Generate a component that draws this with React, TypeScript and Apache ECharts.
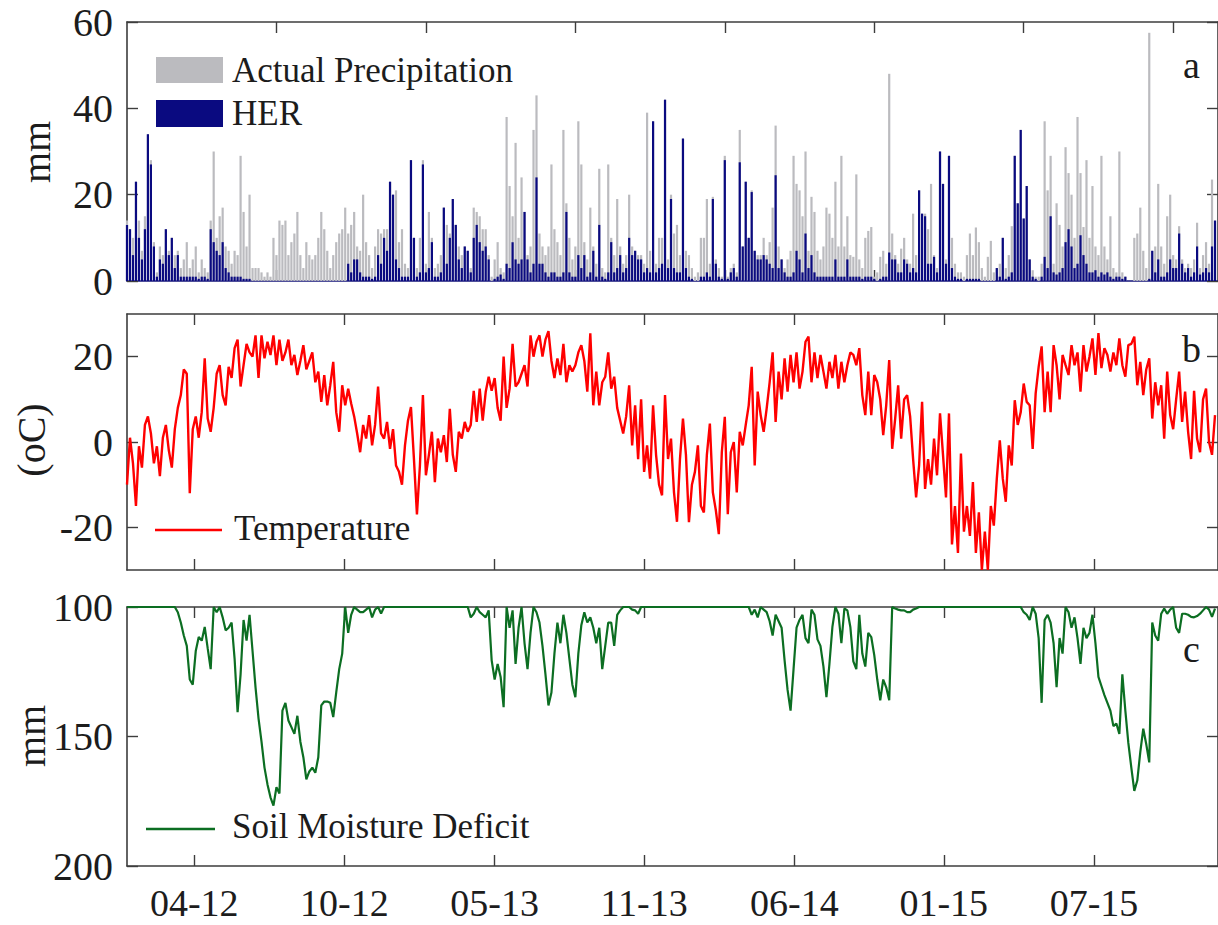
import React, { useEffect, useRef } from 'react';
import * as echarts from 'echarts';

// Daily record sampled every 4 days, starting early January 2012.
const STEP_DAYS = 4;
const LAST_DAY = 1460;

// Date ticks of the temperature / soil-moisture panels (day index -> mm-yy label)
const dateTickDays = [90, 291, 492, 692, 893, 1093, 1294];
const dateTickLabels = ['04-12', '10-12', '05-13', '11-13', '06-14', '01-15', '07-15'];
// Day-count ticks of the precipitation panel
const dayCountTicks = [200, 400, 600, 800, 1000, 1200, 1400];

const precipTicks = [0, 20, 40, 60];
const temperatureTicks = [-20, 0, 20];
const deficitTicks = [100, 150, 200];

// Actual precipitation (mm)
const precipitation = [
  14, 12, 10, 23, 14, 7, 15, 34, 28, 9,
  2, 8, 6, 12, 7, 10, 6, 7, 3, 5,
  9, 3, 5, 8, 2, 5, 3, 2, 14, 30,
  10, 15, 17, 8, 7, 4, 7, 6, 29, 16,
  8, 20, 3, 3, 3, 2, 1, 2, 1, 10,
  6, 14, 13, 14, 6, 9, 11, 16, 6, 3,
  9, 6, 5, 6, 10, 16, 12, 7, 3, 6,
  9, 11, 12, 17, 11, 13, 16, 8, 7, 20,
  9, 6, 3, 8, 12, 11, 12, 12, 23, 20,
  21, 9,
  12, 4, 3, 28, 10, 3, 10, 28, 4, 16,
  10, 3, 4, 6, 17, 13, 11, 19, 13, 8,
  6, 8, 7, 3, 17, 16, 15, 12, 12, 6,
  1, 5, 9, 3, 2, 38, 22, 15, 32, 10,
  24, 16, 6, 8, 35, 43, 11, 8, 6, 8,
  27, 12, 9, 6, 35, 18, 10, 5, 8, 37,
  27, 9, 5, 17, 8, 4, 26, 3, 2, 27,
  10, 6, 19, 8, 4, 6, 20, 8, 7, 6,
  6, 4, 39, 7, 37, 4, 10, 10, 42, 5,
  20, 11,
  13, 6, 33, 7, 6, 3, 1, 2, 10, 10,
  19, 4, 19.5, 5, 3, 1, 29, 1, 3, 4,
  2, 35, 8, 23, 10, 21, 7, 6, 6, 10,
  6, 9, 17, 36, 8, 5, 3, 5, 7, 29,
  22.5, 21, 15, 30, 7, 19.5, 16, 7, 5, 8,
  17, 15.6, 10, 23, 8, 29, 8, 15, 6, 5.6,
  24.7, 5, 3, 10, 11.6, 12.5, 1, 2, 5.6, 7,
  4, 48, 11, 6, 4, 7.5, 10, 5, 4, 15.6,
  6, 21, 15.6, 15.6, 12, 22.5, 6, 3, 30, 22.5,
  5, 29,
  10, 4, 2, 2, 1, 6, 11, 6, 12.4, 9,
  3, 1, 5.6, 9.3, 2, 3, 4, 10, 3, 6,
  12.7, 29, 18, 35, 14.5, 22, 5, 2.5, 1, 1,
  4, 37, 21, 29, 4, 18, 13, 8, 31, 25,
  20, 10, 38, 25, 12.5, 28, 10, 22, 8, 6,
  29, 8, 5, 15, 3, 2, 30, 2, 1, 0,
  0, 10, 11, 17, 7, 3, 57.5, 7, 8, 22.5,
  8, 4, 15, 20, 6, 5, 12.7, 5, 3, 4,
  3, 5, 13.5, 3, 6, 9, 4, 23.5, 14,
];

// Hydrologically effective rainfall (mm)
const her = [
  13, 12, 6, 23, 10, 5, 12, 34, 27, 8,
  1, 5, 4, 12, 6, 10, 3, 6, 1, 1,
  1, 1, 1, 1, 0.5, 1, 1, 0.5, 12, 9,
  7, 6, 9, 3, 2, 1, 1, 1, 1, 0.5,
  0.5, 0.5, 0, 0, 0, 0, 0, 0, 0, 0,
  0, 0, 0, 0, 0, 0, 0, 0, 0, 0,
  0, 0, 0, 0, 0, 0, 0, 0, 0, 0,
  0, 0, 0, 0, 4, 2, 5, 5, 2, 1,
  1, 1, 0.5, 1, 6, 4, 10, 7, 23, 20,
  5, 3,
  1, 1, 1, 28, 10, 1, 2, 27, 2, 3,
  9, 1, 1, 2, 17, 4, 10, 19, 13, 5,
  3, 8, 7, 2, 10, 13, 9, 7, 8, 5,
  0, 0.5, 1, 1.5, 0.5, 4, 3, 9, 5, 4,
  5, 16, 5, 2, 4, 24, 4, 4, 2, 1,
  2, 2, 1, 1, 2, 16, 2, 1, 1, 6,
  3, 6, 1, 2, 7, 1, 13, 1, 0.5, 2,
  9, 2, 3, 6, 2, 3, 10, 6, 7, 5,
  5, 2, 3, 2, 37, 2, 3, 4, 42, 3,
  19, 3,
  2, 2, 33, 3, 1, 0.5, 0, 0, 1, 1,
  2, 1, 19, 4, 1, 0.5, 28, 0.5, 2, 3,
  1, 27.5, 8, 23, 10, 20.6, 7, 5, 5, 6,
  5, 4, 3, 24.5, 3, 5, 2, 1, 1, 2,
  7, 5, 2, 11, 3, 6, 2, 1, 1, 1,
  1, 1, 1, 5, 1, 1, 1, 5, 1, 1,
  1, 1, 0.5, 1, 1, 1, 0.5, 0, 0.5, 1,
  1, 6.6, 5, 5, 2, 2, 5, 4, 2, 3,
  2, 21, 15.6, 15, 4, 4, 5.6, 2, 30, 22.5,
  4, 29,
  3, 1, 0.5, 0.5, 0, 0.5, 0.5, 0.5, 0.5, 0.5,
  0, 0, 0, 0, 0, 3, 1, 10, 0.5, 1,
  2, 29, 18, 35, 14.5, 22, 5, 1, 0.5, 0,
  1, 5.6, 3, 15, 2, 1.5, 2, 3, 9, 12,
  8, 3, 4, 10.6, 6, 4, 2, 2, 2.5, 1,
  2, 1.5, 2, 1, 0.5, 1, 1, 0.5, 1, 0,
  0, 0, 0, 0, 0, 0, 0.5, 7, 2, 5,
  1, 1, 2, 5, 3, 3, 11, 4, 2, 3,
  1, 2, 8, 1.5, 2, 3, 2, 8, 14,
];

// Air temperature (°C)
const temperature = [
  -10, 1, -5, -15, -1, -6, 4, 6, 2, -5,
  -1, -8, 1, 4, -2, -6, 3, 8, 11, 17,
  16, -12, 3, 6, 1, 7, 19.6, 5.5, 2.4, 8,
  16, 18, 11, 8.6, 17.6, 15, 22, 24, 13, 18,
  23, 21, 20, 25, 15, 25, 19.6, 23.5, 20.4, 25,
  18, 24, 19, 21, 24, 18, 20.4, 15.7, 19, 22.7,
  17, 19, 21, 14, 16.5, 9.4, 15.7, 8.6, 13.3, 18.8,
  7, 2.4, 13.3, 8.6, 12.5, 9, 6, 2, -2.4, 4,
  0.8, 6.3, -0.8, 4, 13, 2, 0.8, 4.7, -1.6, 3,
  -5.5, -7, -10, -0.8, 5, 8.2, -4, -17, -5.5, 11,
  -7.8, -3, 2.4, -9.4, 0.8, -2.4, 1.6, -4.7, 7.8, -3,
  -7, 2.4, 0.8, 4.7, 2.4, 4, 12, 4.7, 12.5, 5,
  11.7, 15.3,
  12, 15, 8, 5, 20, 8, 12.5, 23, 13, 14,
  16, 18, 13, 25, 20, 23.5, 25, 20, 24, 26,
  19, 15, 19.6, 15.7, 23, 14, 18, 16.5, 18, 21,
  22.7, 19, 11.8, 25.5, 8.6, 16.5, 8.6, 14, 15.3, 21,
  12.5, 15.3, 8, 5, 2, 6, 13.3, -0.8, 8.6, -4,
  10, -7, -0.8, -8.6, 8.6, -3, -10, -12.5, 11, -4,
  0.8, -11.8, -18.7, -4, 5.5, -3, -18.8, -10, -7, -0.8,
  -15, -16.5, -3, 4.3, -11.8, -16, -21.6, -2.4, 5.9, -16.9,
  -2.4, 0, -11.8, 2.4, -0.8, 4, 8.6, 17.6, -5.5, 11.8,
  6.3, 2.4, 7.8, 14, 21, 4.7, 16.5, 10, 19.6, 11.8,
  20.4, 14, 21, 12.5, 16.5, 23.5, 24.7, 14, 21, 15,
  20.4, 16.5, 12.5, 18.8, 15, 20.4, 12.5, 18.8, 14, 18,
  21, 20.4, 18,
  22, 11, 6.3, 16.5, 6.3, 15.7, 14, 10, 1.6, 8.6,
  19.2, -1.6, 5.5, 13.3, 0.8, 10, 11, 6, -4, -13,
  -5.5, 9.4, -11, -4, -10, 0.8, -7.8, 6.7, -3, -13,
  6.7, -24, -15, -26, -2.7, -21, -15, -22, -9.4, -26,
  -16.5, -30, -21, -30, -15, -19.6, -8.6, 0.4, -8.6, -14,
  -0.8, -5.5, 9.8, 4, 7, 13.7, 9.4, 8.6, -1.6, 11.4,
  17.6, 22.4, 7, 16.5, 7, 22.7, 18, 10, 20.4, 18,
  15.7, 22.7, 18, 21, 11.8, 22.7, 16.5, 20, 24.3, 15.7,
  25.5, 17.3, 22, 20.4, 16.5, 21, 18, 24.3, 18, 15.3,
  22.7, 23, 24.7, 13.3, 18.8, 11, 17, 19.6, 5.5, 14,
  8.6, 13.3, 0.8, 16.5, 6.3, 3, 10, 16.5, 4.7, 11.8,
  2.4, -4, 12, 0.8, -2.4, 10, 12.5, 0, -3, 6.3,
];

// Soil moisture deficit (mm, plotted downward from 100)
const soilMoistureDeficit = [
  100, 100, 100, 100, 100, 100, 100, 100, 100, 100,
  100, 100, 100, 100, 100, 100, 100, 102, 106, 111,
  115, 128, 130, 117, 111.6, 113, 107.7, 116, 124, 100,
  102, 100, 104, 109, 108, 106, 120, 140.6, 126, 105,
  113, 103, 117, 131, 143, 152, 162, 168.5, 173.5, 176.7,
  169.6, 172, 140, 137, 143.8, 146.4, 149, 142, 152, 158,
  166.5, 163.5, 162, 164, 158, 138, 136.5, 136.5, 137, 142.5,
  133, 124, 118, 100, 110, 103, 100, 101, 102, 102,
  101, 100, 104, 101, 100, 102.5, 100, 100, 100, 100,
  100, 100, 100, 100, 100, 100, 100, 100, 100, 100,
  100, 100, 100, 100, 100, 100, 100, 100, 100, 100,
  100, 100, 100, 100, 100, 104, 102.6, 100, 102, 103,
  104, 101.3, 120.6, 128, 122, 127, 138.7, 100, 108, 101.3,
  122, 108, 100, 114, 124, 110, 100, 102, 106, 115,
  126, 138, 133, 118, 106, 114, 103, 110, 120, 130,
  134.8, 118, 107, 102, 106, 104, 108, 114, 108, 124,
  115, 106, 106, 115, 103, 101.3, 100, 100, 100, 101,
  101.3, 102.6, 100, 100, 100, 100, 100, 100, 100, 100,
  100, 100, 100, 100, 100, 100, 100, 100, 100, 100,
  100, 100, 100, 100, 100, 100, 100, 100, 100, 100,
  100, 100, 100, 100, 100, 100, 100, 100, 100, 103,
  101, 104, 100, 101, 102, 105.5, 111, 103, 105.5, 108,
  120.6, 132, 140, 124, 108, 105, 103, 112, 114, 101,
  103, 112.5, 115, 123, 134.8, 122, 107.7, 100, 102.6, 114,
  100.6, 101.3, 107.7, 121, 124, 103, 118, 123, 110, 111.6,
  118.6, 128, 136, 128, 131, 136, 100, 100.6, 101, 101.3,
  101.3, 102, 102, 101, 100.6, 100, 100, 100, 100, 100,
  100, 100, 100, 100, 100, 100, 100, 100, 100, 100,
  100, 100, 100, 100, 100, 100, 100, 100, 100, 100,
  100, 100, 100, 100, 100, 100, 100, 100, 100, 100,
  102, 103, 105, 100, 102.6, 112, 137, 105, 103, 106,
  114, 131, 112, 118, 100, 102, 108, 104, 112, 122,
  108, 112, 110, 103, 114, 127, 130.5, 134, 137, 140,
  146, 145, 149, 126, 140, 152.5, 162, 171, 167, 156,
  147, 153, 160, 106, 111, 113, 102.6, 100.6, 102.6, 101,
  100, 108, 110, 102.6, 102.6, 103, 103.8, 104, 103.5, 102.6,
  101.3, 100, 101, 103.8, 100.6,
];

const FONT = 'Liberation Serif, Times New Roman, serif';
const AXIS_COLOR = '#3d3d3d';
const TEXT_COLOR = '#1c1c1c';
const PRECIP_COLOR = '#bbbbbf';
const HER_COLOR = '#0a0a80';
const TEMP_COLOR = '#ff0000';
const SMD_COLOR = '#0c6e22';

const toPairs = (values: number[]) => values.map((v, i) => [i * STEP_DAYS, v]);

function dayAxis(gridIndex: number, position: 'top' | 'bottom', ticks: number[], withLabels: boolean, lineColor = AXIS_COLOR) {
  return {
    type: 'value',
    gridIndex,
    position,
    min: 0,
    max: LAST_DAY,
    axisLine: { show: true, onZero: false, lineStyle: { color: lineColor, width: 1.6 } },
    axisTick: { show: true, inside: true, length: 11, customValues: ticks, lineStyle: { color: AXIS_COLOR, width: 1.4 } },
    axisLabel: withLabels
      ? {
          show: true,
          customValues: ticks,
          margin: 18,
          fontSize: 38,
          lineHeight: 38,
          fontFamily: FONT,
          color: TEXT_COLOR,
          formatter: (v: number) => {
            const k = dateTickDays.indexOf(v);
            return k >= 0 ? dateTickLabels[k] : '';
          },
        }
      : { show: false },
    splitLine: { show: false },
  };
}

function valueAxis(gridIndex: number, position: 'left' | 'right', min: number, max: number, ticks: number[], inverse: boolean) {
  const withLabels = position === 'left';
  return {
    type: 'value',
    gridIndex,
    position,
    min,
    max,
    inverse,
    axisLine: { show: true, onZero: false, lineStyle: { color: AXIS_COLOR, width: 1.6 } },
    axisTick: { show: true, inside: true, length: 11, customValues: ticks, lineStyle: { color: AXIS_COLOR, width: 1.4 } },
    axisLabel: withLabels
      ? { show: true, customValues: ticks, margin: 14, fontSize: 40, fontFamily: FONT, color: TEXT_COLOR }
      : { show: false },
    splitLine: { show: false },
  };
}

const textStyle = (text: string, fontSize: number, extra: Record<string, unknown> = {}) => ({
  text,
  fontSize,
  fontFamily: FONT,
  fill: TEXT_COLOR,
  verticalAlign: 'middle',
  ...extra,
});

const option = {
  animation: false,
  backgroundColor: '#ffffff',
  textStyle: { fontFamily: FONT },
  grid: [
    { left: 127, top: 22, width: 1093, height: 259 },
    { left: 127, top: 314, width: 1093, height: 256 },
    { left: 127, top: 607, width: 1093, height: 259 },
  ],
  xAxis: [
    dayAxis(0, 'bottom', dayCountTicks, false, '#14147a'),
    dayAxis(0, 'top', dayCountTicks, false),
    dayAxis(1, 'bottom', dateTickDays, false),
    dayAxis(1, 'top', dateTickDays, false),
    dayAxis(2, 'bottom', dateTickDays, true),
    dayAxis(2, 'top', dateTickDays, false),
  ],
  yAxis: [
    valueAxis(0, 'left', 0, 60, precipTicks, false),
    valueAxis(0, 'right', 0, 60, precipTicks, false),
    valueAxis(1, 'left', -30, 30, temperatureTicks, false),
    valueAxis(1, 'right', -30, 30, temperatureTicks, false),
    valueAxis(2, 'left', 100, 200, deficitTicks, true),
    valueAxis(2, 'right', 100, 200, deficitTicks, true),
  ],
  series: [
    {
      name: 'Actual Precipitation',
      type: 'bar',
      xAxisIndex: 0,
      yAxisIndex: 0,
      data: toPairs(precipitation),
      barWidth: 2.2,
      barGap: '-100%',
      itemStyle: { color: PRECIP_COLOR },
    },
    {
      name: 'HER',
      type: 'bar',
      xAxisIndex: 0,
      yAxisIndex: 0,
      data: toPairs(her),
      barWidth: 2.2,
      barGap: '-100%',
      itemStyle: { color: HER_COLOR },
    },
    {
      name: 'Temperature',
      type: 'line',
      xAxisIndex: 2,
      yAxisIndex: 2,
      data: toPairs(temperature),
      symbol: 'none',
      showSymbol: false,
      lineStyle: { color: TEMP_COLOR, width: 2.4 },
    },
    {
      name: 'Soil Moisture Deficit',
      type: 'line',
      xAxisIndex: 4,
      yAxisIndex: 4,
      data: toPairs(soilMoistureDeficit),
      symbol: 'none',
      showSymbol: false,
      lineStyle: { color: SMD_COLOR, width: 2.2 },
    },
  ],
  graphic: [
    { type: 'rect', shape: { x: 156, y: 57, width: 67, height: 26 }, style: { fill: PRECIP_COLOR } },
    { type: 'text', x: 232, y: 70, style: textStyle('Actual Precipitation', 35) },
    { type: 'rect', shape: { x: 156, y: 100, width: 67, height: 27 }, style: { fill: HER_COLOR } },
    { type: 'text', x: 232, y: 113, style: textStyle('HER', 35) },
    { type: 'line', shape: { x1: 155, y1: 530, x2: 222, y2: 530 }, style: { stroke: TEMP_COLOR, lineWidth: 2.5 } },
    { type: 'text', x: 234, y: 528, style: textStyle('Temperature', 35) },
    { type: 'line', shape: { x1: 146, y1: 829, x2: 215, y2: 829 }, style: { stroke: SMD_COLOR, lineWidth: 2.5 } },
    { type: 'text', x: 232, y: 826, style: textStyle('Soil Moisture Deficit', 35) },
    { type: 'text', x: 1183, y: 65, style: textStyle('a', 38) },
    { type: 'text', x: 1182, y: 349, style: textStyle('b', 38) },
    { type: 'text', x: 1183, y: 649, style: textStyle('c', 38) },
    { type: 'text', x: 36, y: 152, rotation: Math.PI / 2, style: textStyle('mm', 40, { align: 'center' }) },
    { type: 'text', x: 31, y: 440, rotation: Math.PI / 2, style: textStyle('(oC)', 40, { align: 'center' }) },
    { type: 'text', x: 31, y: 736, rotation: Math.PI / 2, style: textStyle('mm', 40, { align: 'center' }) },
  ],
};

export default function App() {
  const ref = useRef<HTMLDivElement>(null);

  useEffect(() => {
    if (!ref.current) return;
    const chart = echarts.init(ref.current, null, { renderer: 'svg' });
    chart.setOption(option as any);
    return () => chart.dispose();
  }, []);

  return (
    <div
      ref={ref}
      style={{ position: 'absolute', left: 0, top: 0, width: 1218, height: 925, background: '#ffffff' }}
    />
  );
}
